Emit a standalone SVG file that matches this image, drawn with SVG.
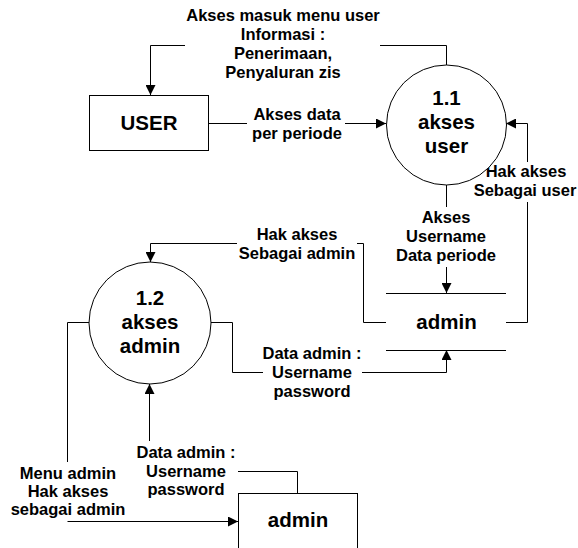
<svg xmlns="http://www.w3.org/2000/svg" width="578" height="548" viewBox="0 0 578 548">
  <style>
    .bg { fill: #ffffff; }
    .shape { fill: #ffffff; stroke: #000000; stroke-width: 1; }
    .flow { fill: none; stroke: #000000; stroke-width: 1; }
    .flow-arrow { fill: none; stroke: #000000; stroke-width: 1; marker-end: url(#arrow); }
    .node-text { font-family: "Liberation Sans", Arial, sans-serif; font-weight: bold; font-size: 20.5px; fill: #000000; text-anchor: middle; }
    .label { font-family: "Liberation Sans", Arial, sans-serif; font-weight: bold; font-size: 16.5px; fill: #000000; text-anchor: middle; }
  </style>
  <defs>
    <marker id="arrow" viewBox="0 0 10 10" refX="10" refY="5" markerWidth="11" markerHeight="10" markerUnits="userSpaceOnUse" orient="auto">
      <path d="M0,0 L10,5 L0,10 Z" fill="#000000"/>
    </marker>
  </defs>

  <rect class="bg" x="0" y="0" width="578" height="548"/>

  <!-- data flows -->
  <g id="connectors">
    <!-- 1.1 -> USER -->
    <polyline class="flow" points="446.5,65 446.5,45.5 380,45.5"/>
    <polyline class="flow-arrow" points="185,45.5 150.5,45.5 150.5,95"/>
    <!-- USER -> 1.1 -->
    <line class="flow" x1="208" y1="123.5" x2="247" y2="123.5"/>
    <line class="flow-arrow" x1="345" y1="123.5" x2="386" y2="123.5"/>
    <!-- 1.1 -> store admin -->
    <line class="flow" x1="446.5" y1="185" x2="446.5" y2="207"/>
    <line class="flow-arrow" x1="446.5" y1="267" x2="446.5" y2="293"/>
    <!-- store admin -> 1.1 -->
    <polyline class="flow" points="506,322.5 527.5,322.5 527.5,202"/>
    <polyline class="flow-arrow" points="527.5,162 527.5,123.5 506,123.5"/>
    <!-- store admin -> 1.2 -->
    <polyline class="flow" points="386,322.5 363.5,322.5 363.5,243.5 357,243.5"/>
    <polyline class="flow-arrow" points="237,243.5 150.5,243.5 150.5,262"/>
    <!-- 1.2 -> store admin -->
    <polyline class="flow" points="211,322.5 232.5,322.5 232.5,372.5 263,372.5"/>
    <polyline class="flow-arrow" points="362,372.5 446.5,372.5 446.5,350"/>
    <!-- admin entity -> 1.2 -->
    <polyline class="flow" points="297.5,493 297.5,471.5 238,471.5"/>
    <line class="flow-arrow" x1="149.5" y1="441" x2="149.5" y2="384"/>
    <!-- 1.2 -> admin entity -->
    <polyline class="flow" points="89,322.5 67.5,322.5 67.5,462"/>
    <line class="flow-arrow" x1="67.5" y1="521.5" x2="238" y2="521.5"/>
  </g>

  <!-- flow labels -->
  <g id="flow-labels">
    <text class="label" x="283" y="21">Akses masuk menu user</text>
    <text class="label" x="283" y="40">Informasi :</text>
    <text class="label" x="283" y="59">Penerimaan,</text>
    <text class="label" x="283" y="78">Penyaluran zis</text>

    <text class="label" x="297" y="120">Akses data</text>
    <text class="label" x="297" y="139">per periode</text>

    <text class="label" x="446" y="223">Akses</text>
    <text class="label" x="446" y="242">Username</text>
    <text class="label" x="446" y="261">Data periode</text>

    <text class="label" x="526" y="177">Hak akses</text>
    <text class="label" x="525" y="196">Sebagai user</text>

    <text class="label" x="297" y="240">Hak akses</text>
    <text class="label" x="297" y="259">Sebagai admin</text>

    <text class="label" x="312" y="359">Data admin :</text>
    <text class="label" x="312" y="378">Username</text>
    <text class="label" x="312" y="397">password</text>

    <text class="label" x="186" y="458">Data admin :</text>
    <text class="label" x="186" y="477">Username</text>
    <text class="label" x="186" y="495">password</text>

    <text class="label" x="68" y="479">Menu admin</text>
    <text class="label" x="68" y="497">Hak akses</text>
    <text class="label" x="68" y="515">sebagai admin</text>
  </g>

  <!-- external entity USER -->
  <g id="entity-user">
    <rect class="shape" x="89.5" y="95.5" width="119" height="55"/>
    <text class="node-text" x="149" y="130">USER</text>
  </g>

  <!-- process 1.1 -->
  <g id="process-1-1">
    <circle class="shape" cx="446.5" cy="125" r="60"/>
    <text class="node-text" x="446.5" y="105">1.1</text>
    <text class="node-text" x="446.5" y="129">akses</text>
    <text class="node-text" x="446.5" y="153">user</text>
  </g>

  <!-- data store admin -->
  <g id="store-admin">
    <line class="flow" x1="386" y1="293.5" x2="506" y2="293.5"/>
    <line class="flow" x1="386" y1="350.5" x2="506" y2="350.5"/>
    <text class="node-text" x="446.5" y="329">admin</text>
  </g>

  <!-- process 1.2 -->
  <g id="process-1-2">
    <circle class="shape" cx="150" cy="323" r="61"/>
    <text class="node-text" x="150" y="305">1.2</text>
    <text class="node-text" x="150" y="329">akses</text>
    <text class="node-text" x="150" y="353">admin</text>
  </g>

  <!-- external entity admin -->
  <g id="entity-admin">
    <rect class="shape" x="238.5" y="493.5" width="119" height="70"/>
    <text class="node-text" x="298" y="527">admin</text>
  </g>
</svg>
